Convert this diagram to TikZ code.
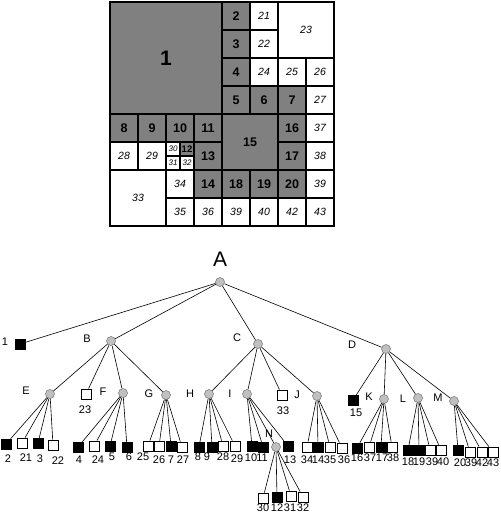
\documentclass[tikz,border=0pt]{standalone}
\usepackage{fontspec}
\setmainfont{Liberation Sans}
\definecolor{cellgray}{HTML}{808080}
\definecolor{nodegray}{HTML}{C0C0C0}
\begin{document}
\begin{tikzpicture}[x=1pt,y=-1pt,
  gcell/.style={rectangle, fill=cellgray, draw=black, line width=1.4pt, inner sep=0,
    font=\bfseries\fontsize{12.5}{12.5}\selectfont},
  wcell/.style={rectangle, fill=white, draw=black, line width=1.4pt, inner sep=0,
    font=\itshape\fontsize{10.5}{10.5}\selectfont},
  inner/.style={circle, fill=nodegray, draw=black!55, line width=0.5pt, minimum size=9pt, inner sep=0},
  blk/.style={rectangle, fill=black, draw=black, minimum size=10pt, inner sep=0},
  wht/.style={rectangle, fill=white, draw=black, line width=0.8pt, minimum size=10pt, inner sep=0},
  lab/.style={inner sep=0, font=\fontsize{11}{11}\selectfont},
  edge/.style={draw=black, line width=0.6pt}
]
\useasboundingbox (0,0) rectangle (500,516);
% ---------- region grid ----------
\node[gcell, minimum size=112pt, font=\bfseries\fontsize{21}{21}\selectfont] (g1) at (166,58) {1};
\foreach \c/\r/\w/\t in {4/0/1/2, 4/1/1/3, 4/2/1/4, 4/3/1/5, 5/3/1/6, 6/3/1/7,
  0/4/1/8, 1/4/1/9, 2/4/1/10, 3/4/1/11, 3/5/1/13, 3/6/1/14, 4/4/2/15,
  6/4/1/16, 6/5/1/17, 4/6/1/18, 5/6/1/19, 6/6/1/20}
  {\node[gcell, minimum size=\w*28pt] (g\t) at ({110+28*(\c+\w/2)},{2+28*(\r+\w/2)}) {\t};}
\node[gcell, minimum size=14pt, font=\bfseries\fontsize{9.5}{9.5}\selectfont] (g12) at (187,149) {12};
\foreach \c/\r/\w/\t in {5/0/1/21, 5/1/1/22, 6/0/2/23, 5/2/1/24, 6/2/1/25, 7/2/1/26, 7/3/1/27,
  0/5/1/28, 1/5/1/29, 0/6/2/33, 2/6/1/34, 2/7/1/35, 3/7/1/36, 7/4/1/37, 7/5/1/38, 7/6/1/39,
  4/7/1/39, 5/7/1/40, 6/7/1/42, 7/7/1/43}
  {\node[wcell, minimum size=\w*28pt] (w\c-\r) at ({110+28*(\c+\w/2)},{2+28*(\r+\w/2)}) {\t};}
\node[wcell, minimum size=14pt, font=\itshape\fontsize{8}{8}\selectfont] (w30) at (173,149) {30};
\node[wcell, minimum size=14pt, font=\itshape\fontsize{8}{8}\selectfont] (w31) at (173,163) {31};
\node[wcell, minimum size=14pt, font=\itshape\fontsize{8}{8}\selectfont] (w32) at (187,163) {32};
% ---------- tree: inner nodes ----------
\node[inner] (A) at (220,282) {};
\node[inner] (B) at (111,341) {};
\node[inner] (C) at (258,344) {};
\node[inner] (D) at (386,349) {};
\node[inner] (E) at (50,394) {};
\node[inner] (F) at (123,393) {};
\node[inner] (G) at (166,395) {};
\node[inner] (H) at (209,394) {};
\node[inner] (I) at (247,394) {};
\node[inner] (J) at (317,396) {};
\node[inner] (K) at (384,399) {};
\node[inner] (L) at (418,398) {};
\node[inner] (M) at (454,401) {};
\node[inner] (N) at (276,447) {};
\node[inner sep=0, font=\fontsize{21}{21}\selectfont] (tA) at (220,259) {A};
\node[lab] (tB) at (87,339) {B};
\node[lab] (tC) at (237,338) {C};
\node[lab] (tD) at (352,345) {D};
\node[lab] (tE) at (26,391) {E};
\node[lab] (tF) at (103,392) {F};
\node[lab] (tG) at (149,394) {G};
\node[lab] (tH) at (190,394) {H};
\node[lab] (tI) at (230,394) {I};
\node[lab] (tJ) at (297,395) {J};
\node[lab] (tK) at (369,397) {K};
\node[lab] (tL) at (403,399) {L};
\node[lab] (tM) at (438,398) {M};
\node[lab] (tN) at (269,434) {N};
% ---------- tree: edges between inner nodes ----------
\foreach \pa/\q in {A/B, A/C, A/D, B/E, B/F, B/G, C/H, C/I, C/J, D/K, D/L, D/M, I/N}
  {\draw[edge] (\pa) -- (\q);}
% ---------- tree: leaves ----------
\foreach \nm/\st/\x/\y/\pa/\txt/\lx/\ly in {
  q1/blk/20/344/A/1/5/342,
  q23/wht/86/394/B/23/85/410,
  q33/wht/282/395/C/33/283/411,
  q15/blk/353/400/D/15/356/413,
  q2/blk/6/444/E/2/8/459, q21/wht/22/443/E/21/26/458, q3/blk/38/443/E/3/40/459, q22/wht/53/445/E/22/58/461,
  q4/blk/78/447/F/4/79/460, q24/wht/94/446/F/24/98/460, q5/blk/110/446/F/5/112/457, q6/blk/127/447/F/6/129/457,
  q25/wht/148/446/G/25/143/457, q26/wht/159/446/G/26/159/460, q7/blk/171/446/G/7/171/460, q27/wht/182/447/G/27/183/460,
  q8/blk/199/447/H/8/198/457, q9/blk/212/447/H/9/207/457, q28/wht/223/446/H/28/223/457, q29/wht/235/446/H/29/237/459,
  q10/blk/252/446/I/10/251/458, q11/blk/263/447/I/11/262/458, q13/blk/288/446/I/13/290/460,
  q30/wht/263/498/N/30/263/508, q12/blk/277/497/N/12/277/508, q31/wht/291/496/N/31/290/508, q32/wht/303/497/N/32/303/508,
  q34/wht/307/447/J/34/307/460, q14/blk/318/447/J/14/318/460, q35/wht/330/447/J/35/330/460, q36/wht/342/448/J/36/344/460,
  q16/blk/357/448/K/16/357/458, q37/wht/369/447/K/37/370/458, q17/blk/381/447/K/17/382/458, q38/wht/392/447/K/38/393/458,
  q18/blk/408/450/L/18/408/462, q19/blk/419/450/L/19/419/462, q39a/wht/430/450/L/39/432/462, q40/wht/441/450/L/40/443/462,
  q20/blk/458/450/M/20/460/463, q39b/wht/470/452/M/39/471/463, q42/wht/482/452/M/42/482/463, q43/wht/493/452/M/43/493/463}
  {\node[\st] (\nm) at (\x,\y) {};
   \draw[edge] (\pa) -- (\nm);
   \node[lab] (t\nm) at (\lx,\ly) {\txt};}
\end{tikzpicture}
\end{document}
